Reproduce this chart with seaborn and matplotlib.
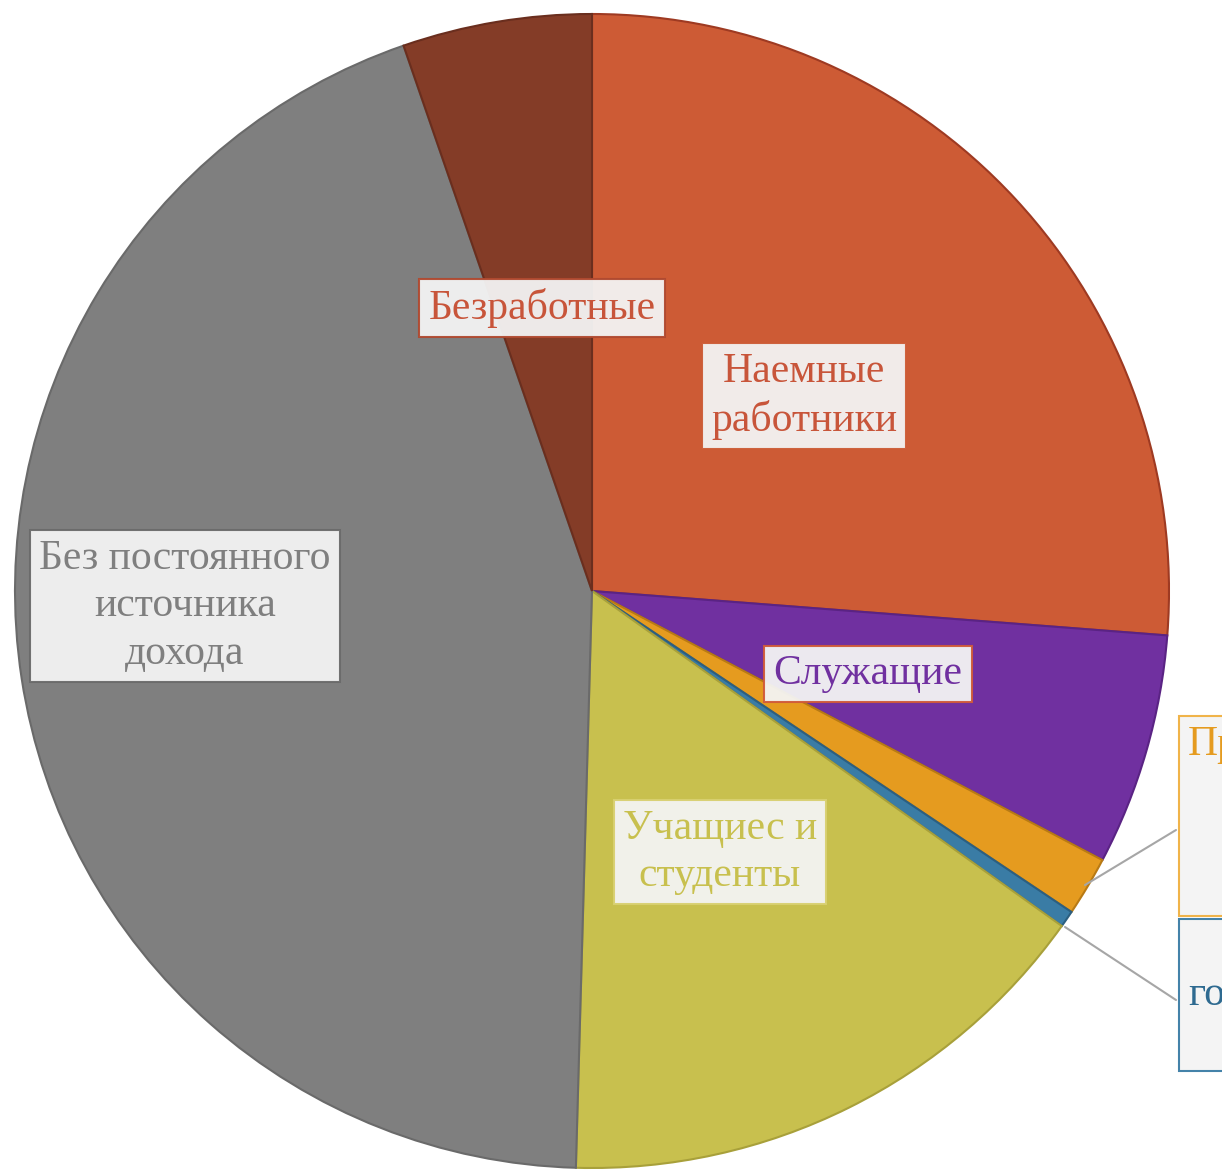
import matplotlib
matplotlib.use("Agg")
import matplotlib.pyplot as plt
import seaborn as sns

# shares, %
categories = ["Наемные\nработники", "Служащие", "Предприниматели\nи лица\nсвободных\nпрофессий",
              "На\nгосударственном\nобеспечении", "Учащиес и\nстуденты",
              "Без постоянного\nисточника\nдохода", "Безработные"]
shares = [26.25, 6.5, 1.67, 0.47, 15.6, 44.3, 5.3]

colors = ["#CD5B35", "#7030A0", "#E59B1F", "#3A7CA5", "#C8C04E", "#7F7F7F", "#843C27"]
edges = ["#9E3A22", "#5A2384", "#B87A14", "#2C5F80", "#A8A03A", "#6A6A6A", "#6A2E1E"]

sns.set_theme(style="white")
plt.rcParams['font.family'] = ['Liberation Serif', 'DejaVu Serif']

W, H = 1222, 1170
fig = plt.figure(figsize=(W/100, H/100), dpi=100)
ax = fig.add_axes([0, 0, 1, 1])

cx, cy, r = 592, H - 591, 577
wedges, _ = ax.pie(shares, colors=colors, startangle=90, counterclock=False,
                   center=(cx, cy), radius=r, frame=True,
                   wedgeprops=dict(linewidth=1.5))
for w, e in zip(wedges, edges):
    w.set_edgecolor(e)
ax.set_xlim(0, W)
ax.set_ylim(0, H)
ax.set_aspect('equal')
ax.axis('off')

fs = 30
# label boxes: (x, y in pixels from top, text colour, box edge, ha)
lab = [
    (804, 396, "#C8553A", "#CD5B35", 'center'),
    (868, 674, "#7030A0", "#D05A3A", 'center'),
    (1188, 816, "#E59B1F", "#F0B040", 'left'),
    (1188, 995, "#2E6A90", "#3A7CA5", 'left'),
    (720, 852, "#C8C04E", "#D8D070", 'center'),
    (185, 606, "#7F7F7F", "#6A6A6A", 'center'),
    (542, 308, "#C8553A", "#B04A30", 'center'),
]
for (x, y, tc, ec, ha), txt in zip(lab, categories):
    ax.text(x, H - y, txt, ha=ha, va='center', multialignment='center',
            fontsize=fs, color=tc, linespacing=1.3,
            bbox=dict(boxstyle='square,pad=0.22', fc='#F4F4F4', ec=ec, lw=1.5, alpha=0.95))

# leader lines for the thin slices
ax.plot([1085, 1176], [H - 885, H - 830], color='#A6A6A6', lw=1.5)
ax.plot([1065, 1176], [H - 927, H - 1000], color='#A6A6A6', lw=1.5)

fig.savefig("out.png", dpi=100)
